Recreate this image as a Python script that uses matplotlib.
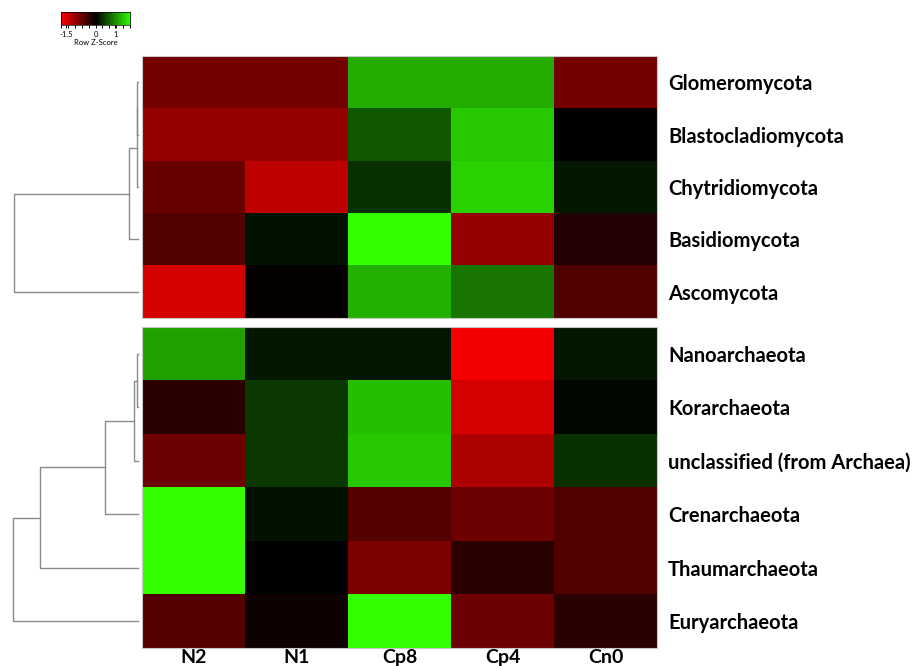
import numpy as np
import matplotlib
matplotlib.use("Agg")
import matplotlib.pyplot as plt
from matplotlib.colors import LinearSegmentedColormap

# columns and rows
samples = ["N2", "N1", "Cp8", "Cp4", "Cn0"]
fungi = ["Glomeromycota", "Blastocladiomycota", "Chytridiomycota",
         "Basidiomycota", "Ascomycota"]
archaea = ["Nanoarchaeota", "Korarchaeota", "unclassified (from Archaea)",
           "Crenarchaeota", "Thaumarchaeota", "Euryarchaeota"]

# row z-scores
fungi_z = [
    [-0.80, -0.80, 1.18, 1.18, -0.80],
    [-1.02, -1.02, 0.60, 1.37, -0.02],
    [-0.72, -1.31, 0.33, 1.43, 0.16],
    [-0.55, 0.11, 1.75, -1.02, -0.22],
    [-1.45, -0.03, 1.21, 0.80, -0.55],
]
archaea_z = [
    [1.10, 0.16, 0.16, -1.68, 0.16],
    [-0.30, 0.38, 1.31, -1.45, 0.05],
    [-0.74, 0.38, 1.37, -1.18, 0.33],
    [1.75, 0.11, -0.58, -0.74, -0.55],
    [1.75, 0.00, -0.86, -0.30, -0.55],
    [-0.58, -0.10, 1.75, -0.74, -0.30],
]

# dendrogram merges: (node a, node b, height); new nodes numbered after leaves
fungi_links = [(0, 1, 0.8), (5, 2, 1.4), (6, 3, 9.0), (7, 4, 124.0)]
archaea_links = [(0, 1, 1.0), (6, 2, 4.0), (7, 3, 33.0), (8, 4, 98.0), (9, 5, 125.0)]

key_ticks = [-1.5, 0, 1]
zmax = 1.75

W, H = 921, 666
cmap = LinearSegmentedColormap.from_list("rg", ["#ff0000", "#000000", "#33ff00"])
plt.rcParams["font.family"] = ["Lato", "DejaVu Sans"]


def px_axes(fig, x0, y0, x1, y1):
    return fig.add_axes([x0 / W, 1 - y1 / H, (x1 - x0) / W, (y1 - y0) / H])


def draw_dendro(ax, links, n):
    pos = {i: float(i) for i in range(n)}
    hgt = {i: 0.0 for i in range(n)}
    for k, (a, b, h) in enumerate(links):
        ya, yb = pos[a], pos[b]
        ax.plot([hgt[a], h, h, hgt[b]], [ya, ya, yb, yb], color="#8a8a8a", lw=1.0)
        pos[n + k] = (ya + yb) / 2
        hgt[n + k] = h
    ax.set_ylim(n - 0.5, -0.5)
    ax.set_xlim(138, -4)
    ax.axis("off")


def draw_block(fig, z, labels, links, y0, y1, show_cols):
    ax = px_axes(fig, 142, y0, 657, y1)
    ax.imshow(np.array(z), cmap=cmap, vmin=-zmax, vmax=zmax, aspect="auto",
              interpolation="nearest")
    ax.set_xticks([])
    ax.set_yticks(range(len(labels)))
    ax.set_yticklabels(labels, fontsize=14.5, fontweight="bold")
    ax.yaxis.tick_right()
    ax.tick_params(axis="y", length=0, pad=8)
    for s in ax.spines.values():
        s.set_color("#c8c8c8")
        s.set_linewidth(0.8)
    if show_cols:
        ax.set_xticks(range(len(samples)))
        ax.set_xticklabels(samples, fontsize=14, fontweight="bold")
        ax.tick_params(axis="x", length=0, pad=1)
    dax = px_axes(fig, 0, y0, 142, y1)
    draw_dendro(dax, links, len(labels))


fig = plt.figure(figsize=(W / 100, H / 100), dpi=100)

draw_block(fig, fungi_z, fungi, fungi_links, 56, 318, False)
draw_block(fig, archaea_z, archaea, archaea_links, 327, 648, True)

# colour key
kax = px_axes(fig, 61, 12, 130, 25)
grad = np.linspace(-zmax, zmax, 256)[None, :]
kax.imshow(grad, cmap=cmap, vmin=-zmax, vmax=zmax, aspect="auto",
           extent=[-zmax, zmax, 0, 1])
kax.set_yticks([])
kax.set_xticks(key_ticks)
kax.set_xticklabels(["-1.5", "0", "1"], fontsize=5.5)
kax.set_xticks(np.linspace(-zmax, zmax, 11), minor=True)
kax.tick_params(axis="x", which="both", length=2.5, width=0.7, pad=1.5)
kax.set_xlabel("Row Z-Score", fontsize=5.5, labelpad=1)
for s in kax.spines.values():
    s.set_linewidth(0.5)

fig.savefig("out.png", dpi=100)
